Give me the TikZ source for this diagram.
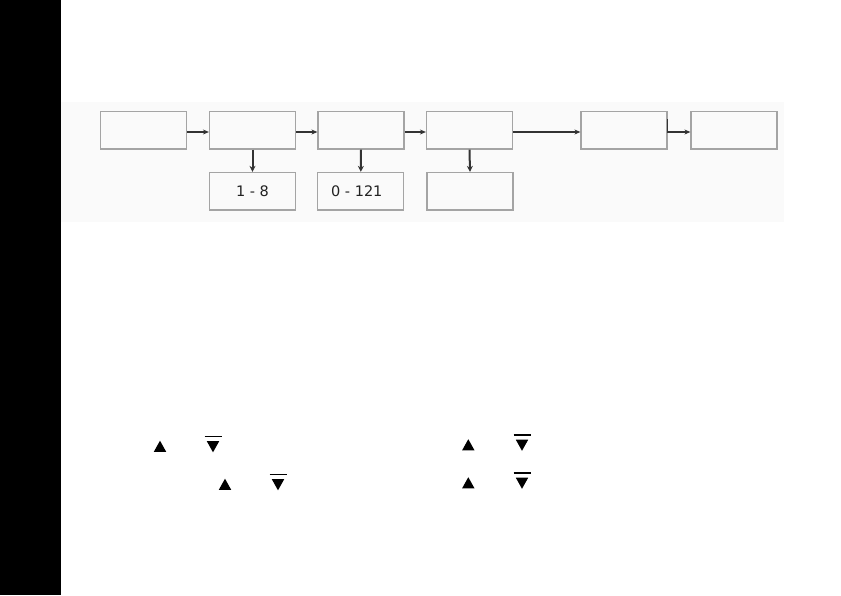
\documentclass[tikz,border=0pt]{standalone}
\usepackage{fontspec}
\setmainfont{DejaVu Sans}
\usetikzlibrary{arrows.meta}
\definecolor{boxgray}{HTML}{A4A4A4}
\definecolor{arrgray}{HTML}{333333}
\definecolor{bgfaint}{HTML}{FAFAFA}
\definecolor{txtgray}{HTML}{222222}
\begin{document}
\begin{tikzpicture}[x=1pt,y=-1pt,
  box/.style={draw=boxgray,line width=1.2pt,minimum width=86pt,minimum height=37.5pt,inner sep=0pt,text=txtgray,font=\fontsize{14.5}{16}\selectfont},
  harr/.style={draw=arrgray,line width=1.3pt,-{Stealth[length=6pt,width=5pt]}},
  varr/.style={draw=arrgray,line width=2pt,-{Stealth[length=6pt,width=6pt]}},
  tri/.style={fill=black,draw=none}]
\useasboundingbox (0,0) rectangle (841,595);
\fill[black] (0,0) rectangle (61,595);
\fill[bgfaint] (61,102) rectangle (784,222);
% top row
\node[box] (b1) at (143.5,130.3) {};
\node[box] (b2) at (252.5,130.3) {};
\node[box] (b3) at (361,130.3) {};
\node[box] (b4) at (469.5,130.3) {};
\node[box] (b5) at (624,130.3) {};
\node[box] (b6) at (734,130.3) {};
% lower row
\node[box] (l2) at (252.5,191.2) {1 - 8};
\node[box] (l3) at (360.8,191.2) {0 - 121\hspace*{8pt}};
\node[box] (l4) at (470,191.2) {};
% connectors
\draw[harr] ([yshift=-1.7pt]b1.east) -- ([yshift=-1.7pt]b2.west);
\draw[harr] ([yshift=-1.7pt]b2.east) -- ([yshift=-1.7pt]b3.west);
\draw[harr] ([yshift=-1.7pt]b3.east) -- ([yshift=-1.7pt]b4.west);
\draw[harr,line width=1.8pt] ([yshift=-1.7pt]b4.east) -- ([yshift=-1.7pt]b5.west);
\coordinate (t5) at ([yshift=11pt]b5.east);
\draw[harr] (t5) |- ([yshift=-1.7pt]b6.west);
\draw[varr] (b2.south) -- (l2.north);
\draw[varr] (b3.south) -- (l3.north);
\draw[varr] (b4.south) -- (l4.north);
% up / down symbols
\newcommand{\upsym}[2]{\fill[tri] (#1-6.2,#2+5.3) -- (#1+6.2,#2+5.3) -- (#1,#2-5.8) -- cycle;}
\newcommand{\dnsym}[2]{\fill[tri] (#1-6.2,#2-5.3) -- (#1+6.2,#2-5.3) -- (#1,#2+5.8) -- cycle;
  \draw[black,line width=1.5pt] (#1-8.5,#2-9.8) -- (#1+8.5,#2-9.8);}
\upsym{160}{446.5}
\dnsym{213}{446.5}
\upsym{225}{484.5}
\dnsym{278}{484.5}
\upsym{468.3}{445}
\dnsym{522}{445}
\upsym{468.3}{483}
\dnsym{522}{483}
\end{tikzpicture}
\end{document}
